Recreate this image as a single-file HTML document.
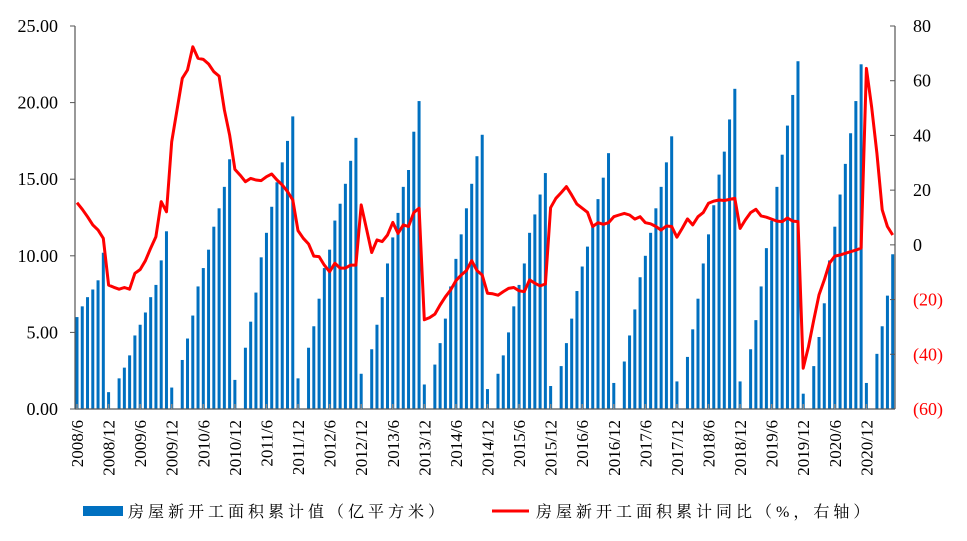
<!DOCTYPE html>
<html><head><meta charset="utf-8">
<style>
html,body{margin:0;padding:0;background:#fff;}
svg{display:block;}
text{font-family:"Liberation Serif","Noto Serif CJK SC",serif;}
</style></head>
<body>
<svg id="chart" width="967" height="541" viewBox="0 0 967 541" xmlns="http://www.w3.org/2000/svg">
<g id="bars"></g>
<g id="line"></g>
<g id="axes"></g>
<g>
  <rect x="83" y="506" width="40" height="10" fill="#0070C0"/>
  <text x="128" y="517" font-size="16" letter-spacing="4" fill="#000">房屋新开工面积累计值（亿平方米）</text>
  <line x1="492" y1="511" x2="529" y2="511" stroke="#FF0000" stroke-width="3"/>
  <text x="536" y="517" font-size="16" letter-spacing="4" fill="#000">房屋新开工面积累计同比（%，右轴）</text>
</g>
</svg>
<script>
const barValues = [
 6.0,6.7,7.3,7.8,8.4,10.2,
 1.1,null,2.0,2.7,3.5,4.8,5.5,6.3,7.3,8.1,9.7,11.6,
 1.4,null,3.2,4.6,6.1,8.0,9.2,10.4,11.9,13.1,14.5,16.3,
 1.9,null,4.0,5.7,7.6,9.9,11.5,13.2,14.8,16.1,17.5,19.1,
 2.0,null,4.0,5.4,7.2,9.2,10.4,12.3,13.4,14.7,16.2,17.7,
 2.3,null,3.9,5.5,7.3,9.5,11.2,12.8,14.5,15.6,18.1,20.1,
 1.6,null,2.9,4.3,5.9,8.0,9.8,11.4,13.1,14.7,16.5,17.9,
 1.3,null,2.3,3.5,5.0,6.7,8.1,9.5,11.5,12.7,14.0,15.4,
 1.5,null,2.8,4.3,5.9,7.7,9.3,10.6,11.9,13.7,15.1,16.7,
 1.7,null,3.1,4.8,6.5,8.6,10.0,11.5,13.1,14.5,16.1,17.8,
 1.8,null,3.4,5.2,7.2,9.5,11.4,13.3,15.3,16.8,18.9,20.9,
 1.8,null,3.9,5.8,8.0,10.5,12.3,14.5,16.6,18.5,20.5,22.7,
 1.0,null,2.8,4.7,6.9,9.7,11.9,14.0,16.0,18.0,20.1,22.5,
 1.7,null,3.6,5.4,7.4,10.1
];
const lineValues = [
 15.4,13.0,10.3,7.3,5.4,2.4,
 -14.7,-15.5,-16.2,-15.6,-16.2,-10.4,-9.0,-5.8,-1.2,3.0,15.8,12.1,
 37.7,49.3,60.9,63.9,72.4,68.2,67.8,66.1,63.3,61.7,49.3,40.2,
 27.6,25.5,23.1,24.3,23.7,23.5,24.9,25.9,23.7,21.9,19.5,16.4,
 5.2,2.4,0.3,-4.1,-4.3,-7.4,-9.8,-6.7,-8.5,-8.5,-7.4,-7.4,
 14.6,6.0,-2.8,1.8,1.2,3.6,8.2,4.2,7.3,6.7,11.8,13.4,
 -27.4,-26.6,-25.3,-22.0,-19.0,-16.5,-13.1,-11.0,-9.4,-5.8,-9.4,-11.0,
 -17.7,-17.9,-18.4,-17.1,-15.9,-15.6,-16.8,-17.1,-12.8,-14.0,-15.0,-14.3,
 13.6,17.0,19.1,21.3,18.2,14.9,13.4,11.9,6.7,8.1,7.5,8.1,
 10.3,10.9,11.5,10.9,9.4,10.3,8.1,7.7,6.7,5.4,6.9,6.7,
 2.8,6.0,9.5,7.3,10.3,11.8,15.2,16.0,16.4,16.2,16.6,17.0,
 6.0,9.1,11.8,13.0,10.6,10.1,9.4,8.7,8.5,9.8,8.7,8.5,
 -45.1,-37.2,-27.4,-18.3,-12.8,-6.7,-4.1,-3.7,-3.1,-2.5,-1.9,-1.2,
 64.5,50.5,33.5,12.8,6.7,3.6
];
const xTickLabels = ["2008/6","2008/12","2009/6","2009/12","2010/6","2010/12","2011/6","2011/12","2012/6","2012/12","2013/6","2013/12","2014/6","2014/12","2015/6","2015/12","2016/6","2016/12","2017/6","2017/12","2018/6","2018/12","2019/6","2019/12","2020/6","2020/12"];
const leftTicks = [0,5,10,15,20,25];
const rightTicks = [-60,-40,-20,0,20,40,60,80];

const NS="http://www.w3.org/2000/svg";
const X0=77, X1=892.7, PL=75, PR=895, YT=26, YB=409;
const n = barValues.length;
function xScale(i){ return X0 + i*(X1-X0)/(n-1); }
function yLeft(v){ return YB - (v-0)/(25-0)*(YB-YT); }
function yRight(v){ return YB - (v+60)/(140)*(YB-YT); }
function mk(tag, attrs, parent){ const e=document.createElementNS(NS,tag); for(const k in attrs) e.setAttribute(k,attrs[k]); parent.appendChild(e); return e; }

const gB=document.getElementById('bars');
barValues.forEach((v,i)=>{
  if(v===null) return;
  const y=yLeft(v);
  const r=mk('rect',{x:xScale(i)-1.5,y:y,width:3,height:YB-y,fill:'#0070C0'},gB);
  
  
});

const gL=document.getElementById('line');
const pts=lineValues.map((v,i)=>xScale(i).toFixed(1)+','+yRight(v).toFixed(1)).join(' ');
const pl=mk('polyline',{points:pts,fill:'none',stroke:'#FF0000','stroke-width':3,'stroke-linejoin':'round'},gL);



const gA=document.getElementById('axes');
const la=mk('line',{x1:PL,y1:YT,x2:PL,y2:YB,stroke:'#555','stroke-width':1.2},gA);


const ra=mk('line',{x1:PR,y1:YT,x2:PR,y2:YB,stroke:'#555','stroke-width':1.2},gA);


const xa=mk('line',{x1:PL,y1:YB,x2:PR,y2:YB,stroke:'#555','stroke-width':1.2},gA);



leftTicks.forEach(v=>{
  const y=yLeft(v);
  mk('line',{x1:PL-5,y1:y,x2:PL,y2:y,stroke:'#555'},gA);
  const t=mk('text',{x:58,y:y+6,'text-anchor':'end','font-size':18,fill:'#000'},gA);
  t.textContent=v.toFixed(2);
  
  
});
rightTicks.forEach(v=>{
  const y=yRight(v);
  mk('line',{x1:PR-5,y1:y,x2:PR,y2:y,stroke:'#555'},gA);
  const t=mk('text',{x:913,y:y+6,'text-anchor':'start','font-size':18,fill:v<0?'#FF0000':'#000'},gA);
  t.textContent=v<0?'('+(-v)+')':String(v);
  
  
});
xTickLabels.forEach((lab,k)=>{
  const x=xScale(k*6);
  mk('line',{x1:x,y1:YB-5,x2:x,y2:YB,stroke:'#888','stroke-width':1.5},gA);
  const t=mk('text',{x:0,y:0,'text-anchor':'end','font-size':17,fill:'#000',transform:'translate('+(x+6)+',420) rotate(-90)'},gA);
  t.textContent=lab;
  
  
});
</script>
</body></html>
